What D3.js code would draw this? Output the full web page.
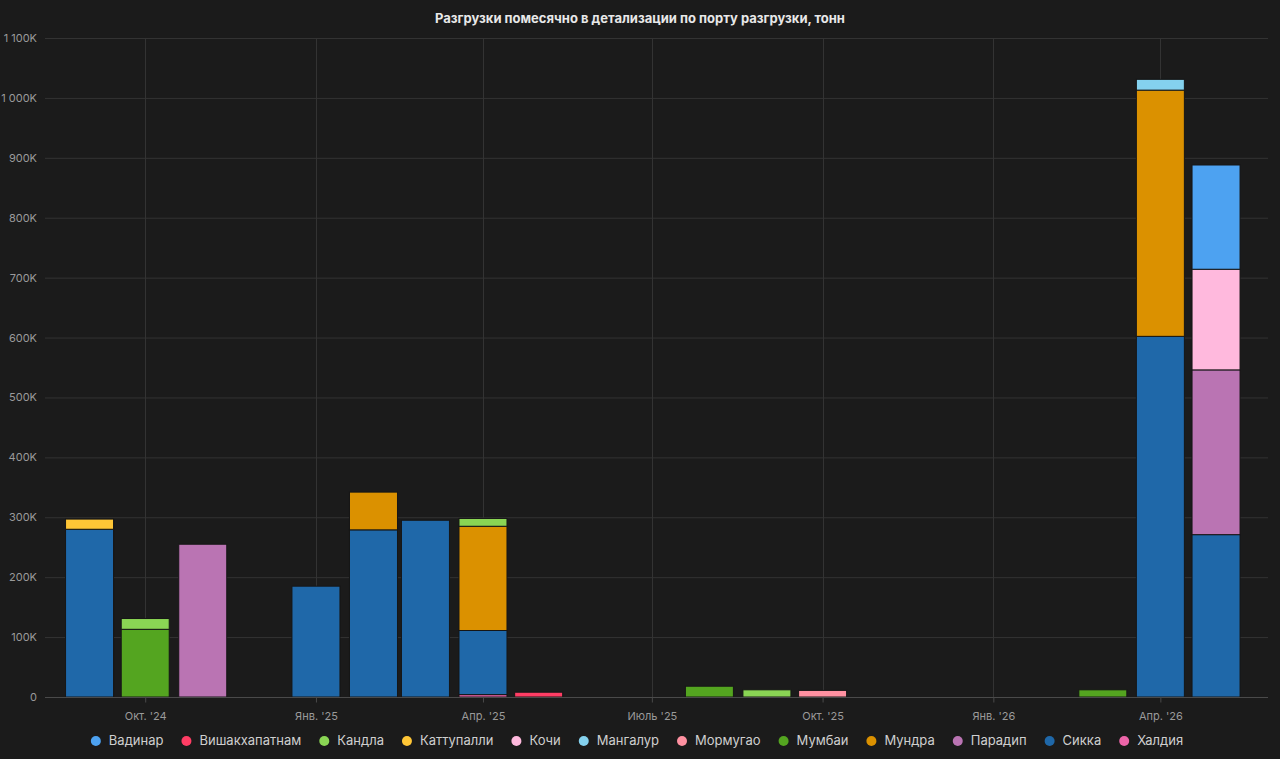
<!DOCTYPE html>
<html>
<head>
<meta charset="utf-8">
<script src="https://cdn.jsdelivr.net/npm/d3@7"></script>
<style>
  html, body { margin: 0; padding: 0; background: #1b1b1b; }
  svg { display: block; font-family: Inter, "Noto Sans", sans-serif; }
</style>
</head>
<body>
<div id="chart"></div>
<script>
// Months (first day of each month), Sep 2024 .. May 2026
var months = ["2024-09", "2024-10", "2024-11", "2024-12", "2025-01", "2025-02", "2025-03",
              "2025-04", "2025-05", "2025-06", "2025-07", "2025-08", "2025-09", "2025-10",
              "2025-11", "2025-12", "2026-01", "2026-02", "2026-03", "2026-04", "2026-05"];

var ports = ["Вадинар", "Вишакхапатнам", "Кандла", "Каттупалли", "Кочи", "Мангалур",
             "Мормугао", "Мумбаи", "Мундра", "Парадип", "Сикка", "Халдия"];

var portColors = ["#4DA2F1", "#FF3D64", "#8AD554", "#FFC636", "#FFB9DD", "#84D1EE",
                  "#FF91A1", "#54A520", "#DB9100", "#BA74B3", "#1F68A9", "#ED65A9"];

// tonnes, one value per month
var vadinar      = [0, 0, 0, 0, 0, 0, 0, 0, 0, 0, 0, 0, 0, 0, 0, 0, 0, 0, 0, 0, 174000];
var vishakha     = [0, 0, 0, 0, 0, 0, 0, 0, 8000, 0, 0, 0, 0, 0, 0, 0, 0, 0, 0, 0, 0];
var kandla       = [0, 18000, 0, 0, 0, 0, 0, 13000, 0, 0, 0, 0, 12000, 0, 0, 0, 0, 0, 0, 0, 0];
var kattupalli   = [17000, 0, 0, 0, 0, 0, 0, 0, 0, 0, 0, 0, 0, 0, 0, 0, 0, 0, 0, 0, 0];
var kochi        = [0, 0, 0, 0, 0, 0, 0, 0, 0, 0, 0, 0, 0, 0, 0, 0, 0, 0, 0, 0, 168000];
var mangalur     = [0, 0, 0, 0, 0, 0, 0, 0, 0, 0, 0, 0, 0, 0, 0, 0, 0, 0, 0, 18000, 0];
var mormugao     = [0, 0, 0, 0, 0, 0, 0, 0, 0, 0, 0, 0, 0, 11000, 0, 0, 0, 0, 0, 0, 0];
var mumbai       = [0, 113000, 0, 0, 0, 0, 0, 0, 0, 0, 0, 18000, 0, 0, 0, 0, 0, 0, 12000, 0, 0];
var mundra       = [0, 0, 0, 0, 0, 63000, 0, 174000, 0, 0, 0, 0, 0, 0, 0, 0, 0, 0, 0, 411000, 0];
var paradip      = [0, 0, 255000, 0, 0, 0, 0, 0, 0, 0, 0, 0, 0, 0, 0, 0, 0, 0, 0, 0, 275000];
var sikka        = [280000, 0, 0, 0, 185000, 279000, 295000, 107000, 0, 0, 0, 0, 0, 0, 0, 0, 0, 0, 0, 602000, 271000];
var haldia       = [0, 0, 0, 0, 0, 0, 0, 4000, 0, 0, 0, 0, 0, 0, 0, 0, 0, 0, 0, 0, 0];

var seriesValues = [vadinar, vishakha, kandla, kattupalli, kochi, mangalur,
                    mormugao, mumbai, mundra, paradip, sikka, haldia];

var xTickDates  = ["2024-10", "2025-01", "2025-04", "2025-07", "2025-10", "2026-01", "2026-04"];
var xTickLabels = ["Окт. '24", "Янв. '25", "Апр. '25", "Июль '25", "Окт. '25", "Янв. '26", "Апр. '26"];
var yTicks = [0, 100000, 200000, 300000, 400000, 500000, 600000, 700000, 800000, 900000, 1000000, 1100000];

var title = "Разгрузки помесячно в детализации по порту разгрузки, тонн";

function drawChart() {
    var W = 1280, H = 759;
    var left = 45, right = 1268, top = 38, bottom = 697;
    var parseMonth = d3.utcParse("%Y-%m");

    // Build rows for d3.stack
    var rows = months.map(function(m, i) {
        var r = {date: parseMonth(m)};
        ports.forEach(function(p, j) { r[p] = seriesValues[j][i]; });
        return r;
    });

    var color = d3.scaleOrdinal().domain(ports).range(portColors);

    // stacked bottom-up in reverse legend order
    var stack = d3.stack().keys(ports.slice().reverse());
    var layers = stack(rows);

    var x = d3.scaleUtc()
        .domain([new Date(Date.UTC(2024, 7, 8)), new Date(Date.UTC(2026, 4, 29))])
        .range([left, right]);
    var y = d3.scaleLinear().domain([0, 1100000]).range([bottom, top]);
    var barW = 48;

    var svg = d3.select("#chart").append("svg")
        .attr("width", W).attr("height", H);

    svg.append("rect").attr("width", W).attr("height", H).attr("fill", "#1b1b1b");

    svg.append("text")
        .attr("x", W / 2).attr("y", 23)
        .attr("text-anchor", "middle")
        .attr("font-size", 13).attr("font-weight", 700)
        .attr("fill", "#e8e8e8")
        .text(title);

    // horizontal grid
    svg.append("g").selectAll("line").data(yTicks.slice(1)).join("line")
        .attr("x1", left).attr("x2", right)
        .attr("y1", function(d) { return y(d) + 0.5; })
        .attr("y2", function(d) { return y(d) + 0.5; })
        .attr("stroke", "#333").attr("stroke-width", 1);

    // vertical grid at x ticks
    var xt = xTickDates.map(parseMonth);
    svg.append("g").selectAll("line").data(xt).join("line")
        .attr("x1", function(d) { return Math.round(x(d)) + 0.5; })
        .attr("x2", function(d) { return Math.round(x(d)) + 0.5; })
        .attr("y1", top).attr("y2", bottom)
        .attr("stroke", "#333").attr("stroke-width", 1);

    // y labels
    var fmt = function(d) {
        if (d === 0) return "0";
        var k = d / 1000;
        return (k >= 1000 ? Math.floor(k / 1000) + " " + d3.format("03")(k % 1000) : k) + "K";
    };
    svg.append("g").selectAll("text").data(yTicks).join("text")
        .attr("x", 37).attr("y", function(d) { return y(d) + 4; })
        .attr("text-anchor", "end")
        .attr("font-size", 11).attr("fill", "#9a9a9a")
        .text(fmt);

    // bars
    svg.append("g").selectAll("g").data(layers).join("g")
        .attr("fill", function(d) { return color(d.key); })
        .selectAll("rect")
        .data(function(d) { return d.filter(function(s) { return s[1] - s[0] > 0; }); })
        .join("rect")
            .attr("x", function(d) { return x(d.data.date) - barW / 2; })
            .attr("y", function(d) { return y(d[1]); })
            .attr("width", barW)
            .attr("height", function(d) { return y(d[0]) - y(d[1]); })
            .attr("stroke", "#161616").attr("stroke-width", 1);

    // x axis line
    svg.append("line")
        .attr("x1", left).attr("x2", right)
        .attr("y1", bottom + 0.5).attr("y2", bottom + 0.5)
        .attr("stroke", "#4a4a4a");

    var xAxis = d3.axisBottom(x)
        .tickValues(xt)
        .tickSize(5)
        .tickFormat(function(d, i) { return xTickLabels[i]; });
    var gx = svg.append("g")
        .attr("transform", "translate(0," + (bottom + 0.5) + ")")
        .call(xAxis);
    gx.select(".domain").remove();
    gx.selectAll(".tick line").attr("stroke", "#4a4a4a");
    gx.selectAll(".tick text")
        .attr("font-family", "Inter, 'Noto Sans', sans-serif")
        .attr("font-size", 11).attr("fill", "#9a9a9a").attr("dy", "1.3em");

    // legend
    var gap = 23;
    var lg = svg.append("g");
    var items = lg.selectAll("g").data(ports).join("g");
    items.append("circle").attr("r", 5).attr("cy", -4)
        .attr("fill", function(d) { return color(d); });
    items.append("text").attr("x", 13).attr("font-size", 13)
        .attr("fill", "#cfcfcf").text(function(d) { return d; });
    var pos = 0;
    items.each(function() {
        var w = d3.select(this).select("text").node().getComputedTextLength();
        d3.select(this).attr("transform", "translate(" + pos + ",0)");
        pos += 13 + w + gap;
    });
    var total = pos - gap + 5;
    lg.attr("transform", "translate(" + (W / 2 - total / 2 + 2) + ",745)");
}

drawChart();
</script>
</body>
</html>
